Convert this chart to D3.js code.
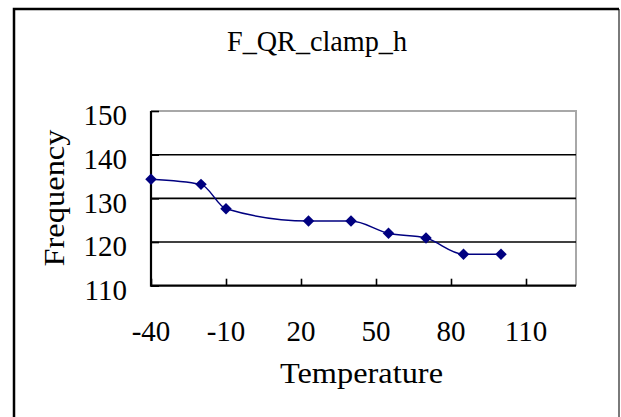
<!DOCTYPE html>
<html><head><meta charset="utf-8">
<script src="https://cdn.jsdelivr.net/npm/d3@7"></script>
<style>html,body{margin:0;padding:0;background:#fff;}svg{display:block;}</style>
</head><body>
<script>
const titleText = "F_QR_clamp_h";
const xLabel = "Temperature";
const yLabel = "Frequency";
const temperatures = [-40, -20, -10, 23, 40, 55, 70, 85, 100];
const frequencies = [134.4, 133.2, 127.6, 124.8, 124.8, 122.0, 120.9, 117.2, 117.2];
const xTicks = [-40, -10, 20, 50, 80, 110];
const yTicks = [110, 120, 130, 140, 150];

const W = 621, H = 417;
const svg = d3.select("body").append("svg").attr("width", W).attr("height", H);
const font = "'Liberation Serif', 'Times New Roman', serif";

// outer chart frame
svg.append("line").attr("x1", 619).attr("y1", 9).attr("x2", 619).attr("y2", H + 2)
  .attr("stroke", "#7a7a7a").attr("stroke-width", 2);
svg.append("path").attr("d", `M14,${H + 2}V9H619`).attr("fill", "none")
  .attr("stroke", "#000").attr("stroke-width", 2.5);

const x = d3.scaleLinear().domain([-40, 130]).range([151, 576]);
const y = d3.scaleLinear().domain([110, 150]).range([285.7, 111]);

// plot area border: top/right gray
svg.append("path").attr("d", `M${x(-40)},${y(150)}H${x(130)}V${y(110)}`)
  .attr("fill", "none").attr("stroke", "#a8a8a8").attr("stroke-width", 2);

// gridlines
svg.append("g").selectAll("line").data(yTicks.filter(t => t > 110 && t < 150)).join("line")
  .attr("x1", x(-40)).attr("x2", x(130)).attr("y1", d => y(d)).attr("y2", d => y(d))
  .attr("stroke", "#000").attr("stroke-width", 1.6);

// x axis (inside ticks)
const xAxis = d3.axisTop(x).tickValues(xTicks).tickSize(7).tickFormat("");
const gx = svg.append("g").attr("transform", `translate(0,${y(110)})`).call(xAxis);
gx.select(".domain").remove();
gx.selectAll("line").attr("stroke", "#000").attr("stroke-width", 1.6);
svg.append("g").selectAll("text").data(xTicks).join("text")
  .attr("x", d => x(d)).attr("y", 341).attr("text-anchor", "middle")
  .attr("font-family", font).attr("font-size", 29).attr("fill", "#000")
  .text(d => d);

// y axis (inside ticks)
const yAxis = d3.axisRight(y).tickValues(yTicks).tickSize(8).tickFormat("");
const gy = svg.append("g").attr("transform", `translate(${x(-40)},0)`).call(yAxis);
gy.select(".domain").remove();
gy.selectAll("line").attr("stroke", "#000").attr("stroke-width", 1.6);
svg.append("g").selectAll("text").data(yTicks).join("text")
  .attr("x", 127).attr("y", d => y(d) + 4).attr("dy", "0.35em").attr("text-anchor", "end")
  .attr("font-family", font).attr("font-size", 29).attr("fill", "#000")
  .text(d => d);

// axis lines left & bottom
svg.append("path").attr("d", `M${x(-40)},${y(150)}V${y(110)}H${x(130)}`)
  .attr("fill", "none").attr("stroke", "#000").attr("stroke-width", 2.2);

// series
const data = temperatures.map((t, i) => ({t, f: frequencies[i]}));
const line = d3.line().x(d => x(d.t)).y(d => y(d.f)).curve(d3.curveMonotoneX);
svg.append("path").datum(data).attr("d", line).attr("fill", "none")
  .attr("stroke", "#000080").attr("stroke-width", 1.5);
svg.append("g").selectAll("path").data(data).join("path")
  .attr("d", d3.symbol(d3.symbolSquare, 66))
  .attr("transform", d => `translate(${x(d.t)},${y(d.f)}) rotate(45)`)
  .attr("fill", "#000080");

// title and axis titles
svg.append("text").attr("x", 317).attr("y", 51).attr("text-anchor", "middle")
  .attr("font-family", font).attr("font-size", 29).attr("fill", "#000")
  .attr("textLength", 180).attr("lengthAdjust", "spacingAndGlyphs").text(titleText);
svg.append("text").attr("x", 361.5).attr("y", 383).attr("text-anchor", "middle")
  .attr("font-family", font).attr("font-size", 29).attr("fill", "#000")
  .attr("textLength", 163).attr("lengthAdjust", "spacingAndGlyphs").text(xLabel);
svg.append("text").attr("transform", "translate(64,198) rotate(-90)").attr("text-anchor", "middle")
  .attr("font-family", font).attr("font-size", 29).attr("fill", "#000")
  .attr("textLength", 137).attr("lengthAdjust", "spacingAndGlyphs").text(yLabel);
</script>
</body></html>
